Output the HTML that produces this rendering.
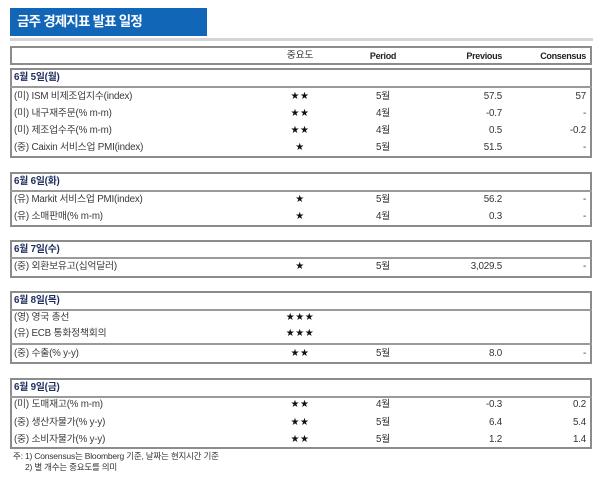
<!DOCTYPE html>
<html><head><meta charset="utf-8">
<style>
*{margin:0;padding:0;box-sizing:border-box;}
body{width:600px;height:485px;background:#fff;position:relative;overflow:hidden;
font-family:"Liberation Sans","Noto Sans CJK KR",sans-serif;color:#333;}
.a{position:absolute;white-space:nowrap;}
.title{left:10px;top:8px;width:197px;height:28px;background:#1166b8;color:#fff;font-weight:bold;
font-size:13.5px;line-height:28px;padding-left:7px;letter-spacing:-0.8px;}
.gl{left:10px;top:38px;width:583px;height:3px;background:#d4d4d4;}
.box{position:absolute;left:10px;width:582px;border:2px solid #8c8c8c;}
.sep{position:absolute;left:10px;width:582px;height:2px;background:#9a9a9a;}
.t{position:absolute;height:16px;line-height:16px;font-size:9.8px;white-space:nowrap;letter-spacing:-0.2px;}
.lab{left:14px;color:#3a3a3a;}
.dt{left:14px;color:#1d2d5e;font-weight:bold;}
.st{left:260px;width:80px;text-align:center;font-family:"DejaVu Sans",sans-serif;font-size:10px;letter-spacing:0.5px;color:#111;}
.pe{left:353px;width:60px;text-align:center;color:#333;}
.pv{left:402px;width:100px;text-align:right;color:#333;}
.cs{left:486px;width:100px;text-align:right;color:#333;}
.hd{font-weight:bold;color:#222;font-size:9px;letter-spacing:-0.3px;}
.fn{position:absolute;font-size:8.5px;color:#333;white-space:nowrap;letter-spacing:-0.2px;}
</style></head><body>
<div class="a title">금주 경제지표 발표 일정</div>
<div class="a gl"></div>

<!-- header -->
<div class="box" style="top:46px;height:19px;"></div>
<div class="t" style="top:48px;left:260px;width:80px;text-align:center;color:#333;">중요도</div>
<div class="t pe hd" style="top:48px;">Period</div>
<div class="t pv hd" style="top:48px;">Previous</div>
<div class="t cs hd" style="top:48px;">Consensus</div>

<!-- box 1 -->
<div class="box" style="top:68px;height:90px;"></div>
<div class="sep" style="top:86px;"></div>
<div class="t dt" style="top:70px;">6월 5일(월)</div>
<div class="t lab" style="top:89px;">(미) ISM 비제조업지수(index)</div>
<div class="t st" style="top:89px;">★★</div>
<div class="t pe" style="top:89px;">5월</div>
<div class="t pv" style="top:89px;">57.5</div>
<div class="t cs" style="top:89px;">57</div>
<div class="t lab" style="top:106px;">(미) 내구재주문(% m-m)</div>
<div class="t st" style="top:106px;">★★</div>
<div class="t pe" style="top:106px;">4월</div>
<div class="t pv" style="top:106px;">-0.7</div>
<div class="t cs" style="top:106px;">-</div>
<div class="t lab" style="top:123px;">(미) 제조업수주(% m-m)</div>
<div class="t st" style="top:123px;">★★</div>
<div class="t pe" style="top:123px;">4월</div>
<div class="t pv" style="top:123px;">0.5</div>
<div class="t cs" style="top:123px;">-0.2</div>
<div class="t lab" style="top:140px;">(중) Caixin 서비스업 PMI(index)</div>
<div class="t st" style="top:140px;">★</div>
<div class="t pe" style="top:140px;">5월</div>
<div class="t pv" style="top:140px;">51.5</div>
<div class="t cs" style="top:140px;">-</div>

<!-- box 2 -->
<div class="box" style="top:172px;height:55px;"></div>
<div class="sep" style="top:190px;"></div>
<div class="t dt" style="top:174px;">6월 6일(화)</div>
<div class="t lab" style="top:192px;">(유) Markit 서비스업 PMI(index)</div>
<div class="t st" style="top:192px;">★</div>
<div class="t pe" style="top:192px;">5월</div>
<div class="t pv" style="top:192px;">56.2</div>
<div class="t cs" style="top:192px;">-</div>
<div class="t lab" style="top:209px;">(유) 소매판매(% m-m)</div>
<div class="t st" style="top:209px;">★</div>
<div class="t pe" style="top:209px;">4월</div>
<div class="t pv" style="top:209px;">0.3</div>
<div class="t cs" style="top:209px;">-</div>

<!-- box 3 -->
<div class="box" style="top:240px;height:38px;"></div>
<div class="sep" style="top:257px;"></div>
<div class="t dt" style="top:242px;">6월 7일(수)</div>
<div class="t lab" style="top:259px;">(중) 외환보유고(십억달러)</div>
<div class="t st" style="top:259px;">★</div>
<div class="t pe" style="top:259px;">5월</div>
<div class="t pv" style="top:259px;">3,029.5</div>
<div class="t cs" style="top:259px;">-</div>

<!-- box 4 -->
<div class="box" style="top:291px;height:73px;"></div>
<div class="sep" style="top:309px;"></div>
<div class="sep" style="top:343px;"></div>
<div class="t dt" style="top:293px;">6월 8일(목)</div>
<div class="t lab" style="top:310px;">(영) 영국 총선</div>
<div class="t st" style="top:310px;">★★★</div>
<div class="t lab" style="top:326px;">(유) ECB 통화정책회의</div>
<div class="t st" style="top:326px;">★★★</div>
<div class="t lab" style="top:346px;">(중) 수출(% y-y)</div>
<div class="t st" style="top:346px;">★★</div>
<div class="t pe" style="top:346px;">5월</div>
<div class="t pv" style="top:346px;">8.0</div>
<div class="t cs" style="top:346px;">-</div>

<!-- box 5 -->
<div class="box" style="top:378px;height:71px;"></div>
<div class="sep" style="top:396px;"></div>
<div class="t dt" style="top:380px;">6월 9일(금)</div>
<div class="t lab" style="top:397px;">(미) 도매재고(% m-m)</div>
<div class="t st" style="top:397px;">★★</div>
<div class="t pe" style="top:397px;">4월</div>
<div class="t pv" style="top:397px;">-0.3</div>
<div class="t cs" style="top:397px;">0.2</div>
<div class="t lab" style="top:415px;">(중) 생산자물가(% y-y)</div>
<div class="t st" style="top:415px;">★★</div>
<div class="t pe" style="top:415px;">5월</div>
<div class="t pv" style="top:415px;">6.4</div>
<div class="t cs" style="top:415px;">5.4</div>
<div class="t lab" style="top:432px;">(중) 소비자물가(% y-y)</div>
<div class="t st" style="top:432px;">★★</div>
<div class="t pe" style="top:432px;">5월</div>
<div class="t pv" style="top:432px;">1.2</div>
<div class="t cs" style="top:432px;">1.4</div>

<div class="fn" style="left:13px;top:450px;">주: 1) Consensus는 Bloomberg 기준, 날짜는 현지시간 기준</div>
<div class="fn" style="left:25px;top:461px;">2) 별 개수는 중요도를 의미</div>
</body></html>
